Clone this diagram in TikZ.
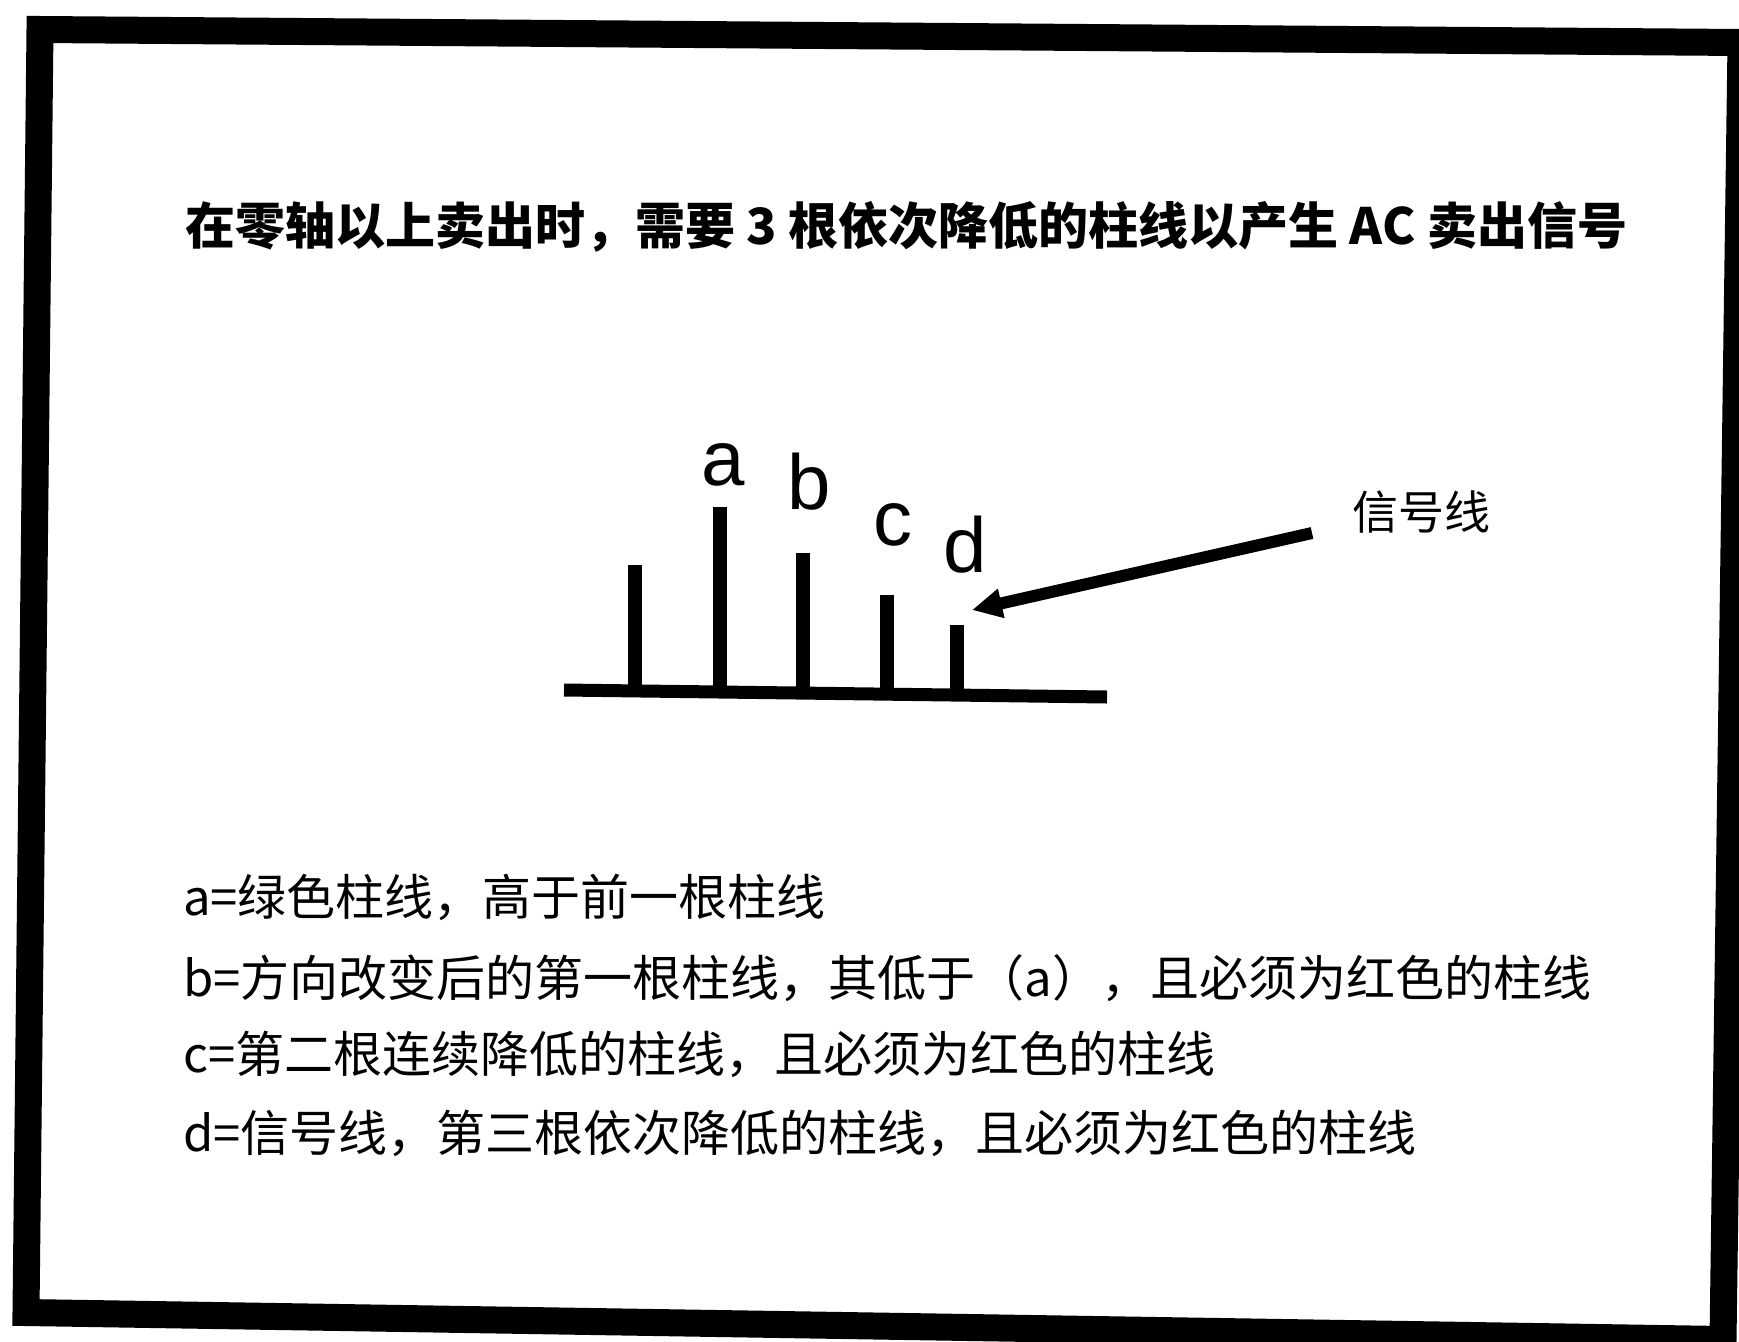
\documentclass[tikz,border=0pt]{standalone}
\usepackage{fontspec}
\setmainfont{Liberation Sans}
\newfontfamily\cjk{Noto Sans CJK SC}
\usetikzlibrary{arrows.meta}
\tikzset{
  frameline/.style={line width=27pt, line join=miter},
  barline/.style={line width=14pt},
  axisline/.style={line width=13pt},
  barlabel/.style={font=\fontsize{78}{80}\selectfont, anchor=base, inner sep=0pt},
  titletext/.style={font=\cjk\bfseries\fontsize{50}{60}\selectfont, inner sep=0pt},
  bodytext/.style={font=\cjk\fontsize{49}{56}\selectfont, anchor=west, inner sep=0pt},
  sigtext/.style={font=\cjk\fontsize{46}{50}\selectfont, inner sep=0pt},
  pointer/.style={line width=12pt, -{Triangle[length=30pt, width=28pt]}}
}
\begin{document}
\begin{tikzpicture}[x=1pt, y=-1pt]
\useasboundingbox (0,0) rectangle (1739,1341);
\fill[white] (0,0) rectangle (1739,1341);
% frame
\coordinate (tl) at (40,29.5);
\coordinate (tr) at (1741,42.5);
\coordinate (br) at (1723,1339.5);
\coordinate (bl) at (26,1312.5);
\draw[frameline] (tl) -- (tr) -- (br) -- (bl) -- cycle;
% title
\node[titletext] (title) at (906,227) {在零轴以上卖出时，需要 3 根依次降低的柱线以产生 AC 卖出信号};
% axis
\coordinate (axl) at (564,690);
\coordinate (axr) at (1107,697);
\draw[axisline] (axl) -- (axr);
% bars
\coordinate (b0top) at (635,565);  \coordinate (b0bot) at (635,690);
\coordinate (batop) at (720,507);  \coordinate (babot) at (720,692);
\coordinate (bbtop) at (803,553);  \coordinate (bbbot) at (803,693);
\coordinate (bctop) at (887,595);  \coordinate (bcbot) at (887,694);
\coordinate (bdtop) at (957,625);  \coordinate (bdbot) at (957,695);
\draw[barline] (b0bot) -- (b0top);
\draw[barline] (babot) -- (batop);
\draw[barline] (bbbot) -- (bbtop);
\draw[barline] (bcbot) -- (bctop);
\draw[barline] (bdbot) -- (bdtop);
% bar labels
\node[barlabel] (la) at (723,485) {a};
\node[barlabel] (lb) at (809,509) {b};
\node[barlabel] (lc) at (893,545) {c};
\node[barlabel] (ld) at (965,572) {d};
% signal pointer
\node[sigtext] (sig) at (1421,512) {信号线};
\coordinate (ptail) at (1312,533);
\coordinate (ptip) at (972,610);
\draw[pointer] (ptail) -- (ptip);
% description
\node[bodytext] (t1) at (183,897) {a=绿色柱线，高于前一根柱线};
\node[bodytext] (t2) at (183,978) {b=方向改变后的第一根柱线，其低于（a），且必须为红色的柱线};
\node[bodytext] (t3) at (183,1054) {c=第二根连续降低的柱线，且必须为红色的柱线};
\node[bodytext] (t4) at (183,1133) {d=信号线，第三根依次降低的柱线，且必须为红色的柱线};
\end{tikzpicture}
\end{document}
